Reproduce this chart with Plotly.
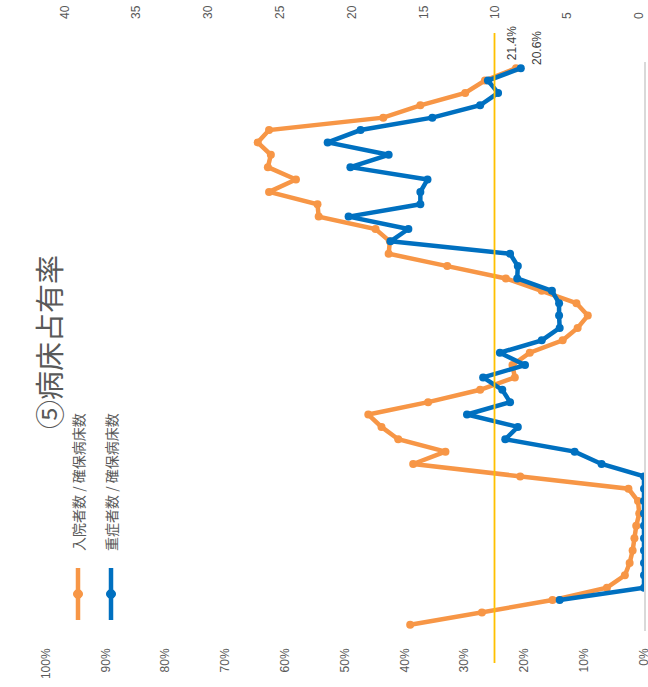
import plotly.graph_objects as go

# ---------------- data ----------------
periods = list(range(1, 47))
inpatient_rate = [39.1, 27.1, 15.3, 6.2, 3.2, 2.4, 1.9, 1.6, 1.3, 0.8,
                  1.0, 2.6, 20.7, 38.6, 33.2, 41.1, 43.9, 46.1, 36.1, 27.4,
                  21.6, 22.0, 19.1, 13.6, 11.1, 9.4, 11.3, 17.1, 23.1, 32.9,
                  42.7, 42.5, 44.9, 54.4, 54.6, 62.7, 58.2, 62.9, 62.4, 64.6,
                  62.7, 43.6, 37.4, 29.9, 26.6, 21.4]
severe_rate = [None, None, 14.1, 0, 0, 0, 0, 0, 0, 0,
               0, 0, 0, 7.1, 11.6, 23.2, 21.1, 29.6, 22.4, 23.7,
               26.9, 19.9, 24.1, 17.1, 14.1, 14.2, 14.2, 15.4, 21.2, 21.1,
               22.4, 42.4, 39.4, 49.4, 37.4, 37.4, 36.2, 49.1, 42.7, 52.9,
               47.4, 35.4, 27.4, 24.4, 26.1, 20.6]
threshold_rate = 25
pct_ticks = [0, 10, 20, 30, 40, 50, 60, 70, 80, 90, 100]
count_ticks = [0, 5, 10, 15, 20, 25, 30, 35, 40]
series_names = ["入院者数 / 確保病床数", "重症者数 / 確保病床数"]
title_text = "⑤病床占有率"

# ---------------- style ----------------
W, H = 648, 687
L, R, T, B = 46, 4, 62, 56
PW, PH = W - L - R, H - T - B
ORANGE = "#F79646"
BLUE = "#0070C0"
YELLOW = "#FFC000"
GREY = "#595959"
FONT = "Liberation Sans"


def px2x(px):
    return (px - L) / PW


def px2y(py):
    return (H - B - py) / PH


inp = [v / 100 for v in inpatient_rate]
sev = [None if v is None else v / 100 for v in severe_rate]

fig = go.Figure()
fig.add_trace(go.Scatter(x=inp, y=periods, mode="lines+markers", name=series_names[0],
                         line=dict(color=ORANGE, width=4.5), marker=dict(size=8, color=ORANGE),
                         showlegend=False, connectgaps=False))
fig.add_trace(go.Scatter(x=sev, y=periods, mode="lines+markers", name=series_names[1],
                         line=dict(color=BLUE, width=4.5), marker=dict(size=8, color=BLUE),
                         showlegend=False, connectgaps=False))
# empty trace to register the secondary (count) axis
fig.add_trace(go.Scatter(x=[None], y=[None], xaxis="x2", showlegend=False, hoverinfo="skip"))

shapes = []
# threshold line
shapes.append(dict(type="line", xref="x", yref="paper", x0=threshold_rate / 100, x1=threshold_rate / 100,
                   y0=px2y(663), y1=px2y(33), line=dict(color=YELLOW, width=1.8), layer="above"))

annotations = []
# title
annotations.append(dict(text=title_text, textangle=-90, xref="paper", yref="paper",
                        x=px2x(48), y=px2y(342), showarrow=False, xanchor="center", yanchor="middle",
                        font=dict(size=29, color=GREY, family="Noto Sans CJK JP")))
# legend
for i, (name, col, xc) in enumerate([(series_names[0], ORANGE, 78), (series_names[1], BLUE, 111)]):
    shapes.append(dict(type="line", xref="paper", yref="paper", x0=px2x(xc), x1=px2x(xc),
                       y0=px2y(620), y1=px2y(568), line=dict(color=col, width=4.5)))
    shapes.append(dict(type="circle", xref="paper", yref="paper", xsizemode="pixel", ysizemode="pixel",
                       xanchor=px2x(xc), yanchor=px2y(594), x0=-4.5, x1=4.5, y0=-4.5, y1=4.5,
                       fillcolor=col, line=dict(color=col, width=1)))
    annotations.append(dict(text=name, textangle=-90, xref="paper", yref="paper",
                            x=px2x(xc), y=px2y(482), showarrow=False, xanchor="center", yanchor="middle",
                            font=dict(size=14, color=GREY, family="Noto Sans CJK JP")))
# data labels on last points
annotations.append(dict(text=f"{inpatient_rate[-1]:.1f}%", textangle=-90, x=inp[-1], y=periods[-1],
                        xref="x", yref="y", showarrow=False, xanchor="center", yanchor="bottom",
                        xshift=-4, yshift=6, font=dict(size=12, color="#404040", family=FONT)))
annotations.append(dict(text=f"{severe_rate[-1]:.1f}%", textangle=-90, x=sev[-1], y=periods[-1],
                        xref="x", yref="y", showarrow=False, xanchor="center", yanchor="bottom",
                        xshift=16, yshift=1, font=dict(size=12, color="#404040", family=FONT)))

fig.update_layout(
    width=W, height=H,
    margin=dict(l=L, r=R, t=T, b=B, pad=0, autoexpand=False),
    paper_bgcolor="white", plot_bgcolor="white",
    font=dict(family=FONT, size=12, color=GREY),
    showlegend=False,
    xaxis=dict(range=[1.0, 0.0], tickvals=[v / 100 for v in pct_ticks], tickformat=".0%",
               tickangle=-90, showgrid=False, zeroline=False, showline=False, ticks="",
               automargin=False, ticklabelstandoff=14, ticklabeloverflow="allow",
               tickfont=dict(size=12, color=GREY)),
    xaxis2=dict(range=[41.3, -0.35], overlaying="x", side="top", tickvals=count_ticks,
                tickangle=-90, showgrid=False, zeroline=False, showline=False, ticks="",
                automargin=False, ticklabelstandoff=42, ticklabeloverflow="allow",
                tickfont=dict(size=12, color=GREY)),
    yaxis=dict(range=[0.5, 46.5], side="right", showticklabels=False, showgrid=False,
               automargin=False, zeroline=False, showline=True, linecolor="#D9D9D9",
               linewidth=1.5, ticks=""),
    shapes=shapes,
    annotations=annotations,
)

post = (
    "document.documentElement.style.margin='0px';"
    "document.body.style.margin='0px';"
    "document.body.style.overflow='hidden';"
)
fig.write_html("out.html", config={"displayModeBar": False}, post_script=post)
